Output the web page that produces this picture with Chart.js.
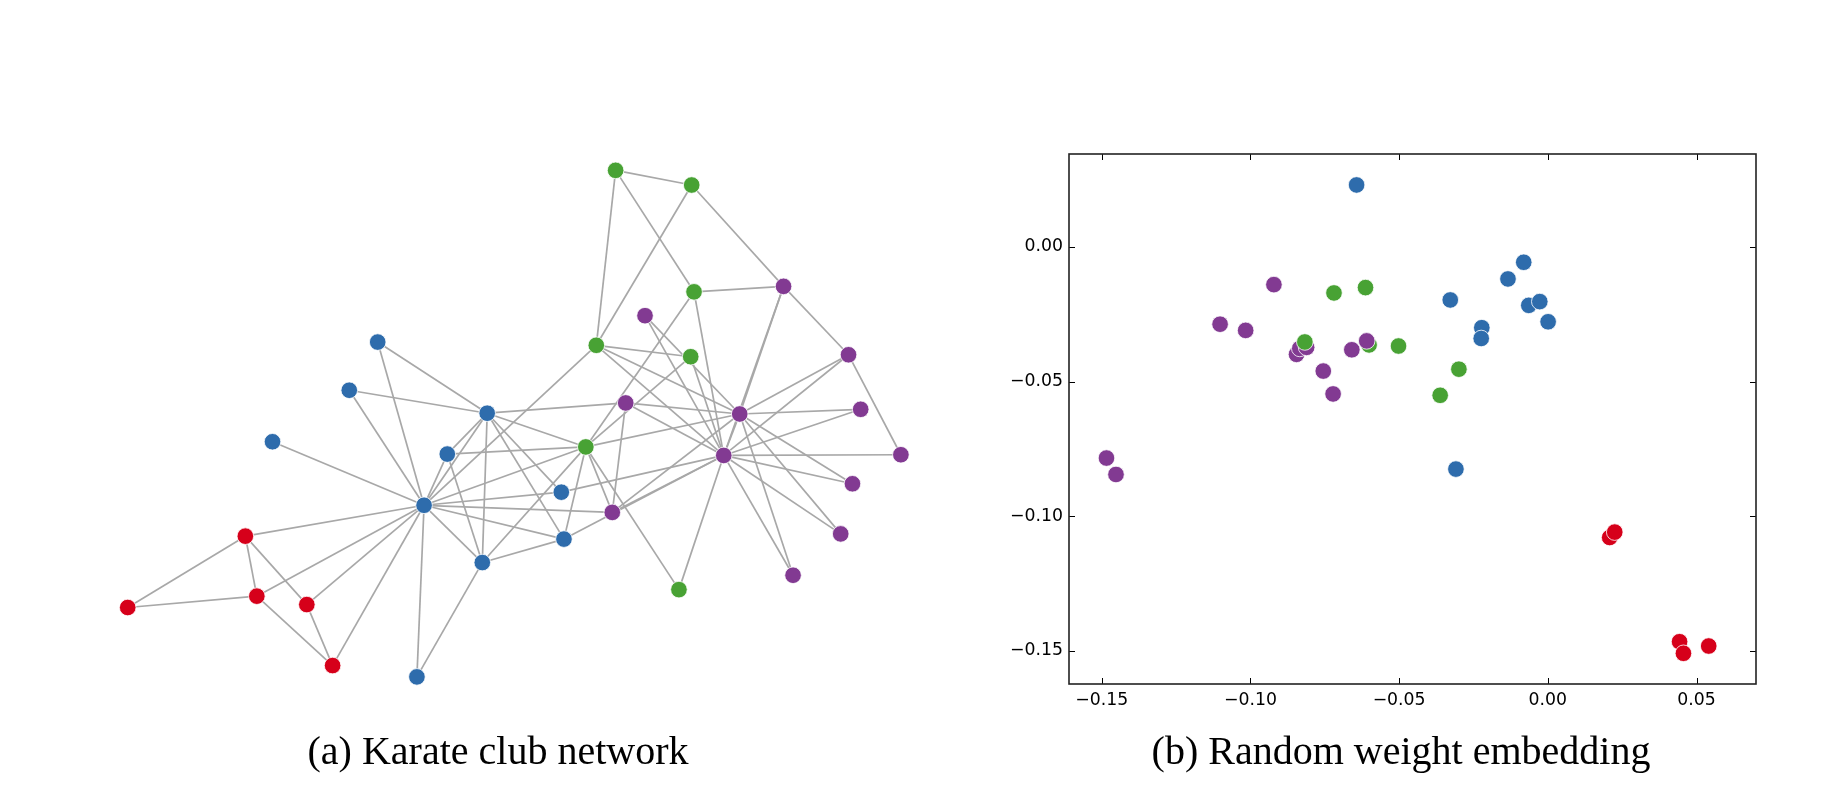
<!DOCTYPE html>
<html>
<head>
<meta charset="utf-8">
<script src="https://cdn.jsdelivr.net/npm/chart.js@4.4.1/dist/chart.umd.min.js"></script>
<style>
  html, body { margin: 0; padding: 0; background: #fff; }
  body { width: 1848px; height: 802px; position: relative; overflow: hidden; }
  canvas { position: absolute; }
  #netCanvas { left: 0; top: 0; }
  #embCanvas { left: 969px; top: 130px; }
  .caption {
    position: absolute; top: 731px; line-height: 40px; white-space: nowrap;
    font-family: 'Liberation Serif', 'Times New Roman', serif; font-size: 40px; color: #000;
    transform: translateX(-50%);
  }
</style>
</head>
<body>
<canvas id="netCanvas" width="924" height="802"></canvas>
<canvas id="embCanvas" width="831" height="600"></canvas>
<div class="caption" style="left:498px">(a) Karate club network</div>
<div class="caption" style="left:1401px">(b) Random weight embedding</div>
<script>
// ─── Community colours ─────────────────────────────
const GROUP_COLORS = ['#2e6cac', '#48a234', '#d6001a', '#823a92']; // blue, green, red, purple
const EDGE_COLOR = '#a8a8a8';

// ─── (a) Karate club network: node layout ──
const nodeX = [423.3, 487.7, 588.3, 482.7, 330.0, 241.0, 252.7, 447.0, 615.3, 683.3,
               303.7, 268.7, 416.0, 566.0, 648.7, 868.7, 121.0, 376.0, 860.3, 563.3,
               848.3, 347.0, 799.7, 790.0, 618.7, 696.3, 909.7, 698.7, 695.3, 856.3,
               629.0, 599.0, 745.3, 729.0];
const nodeY = [507.7, 413.5, 448.0, 566.3, 671.7, 539.3, 600.7, 455.3, 515.0, 594.0,
               609.3, 442.7, 683.3, 542.3, 313.7, 409.5, 612.3, 340.7, 485.7, 494.3,
               537.0, 390.0, 579.3, 283.7, 165.0, 180.0, 456.0, 289.3, 355.7, 353.7,
               403.0, 344.0, 414.3, 456.7];
const nodeGroup = [0, 0, 1, 0, 2, 2, 2, 0, 3, 1,
                   2, 0, 0, 0, 3, 3, 2, 0, 3, 0,
                   3, 0, 3, 3, 1, 1, 3, 1, 1, 3,
                   3, 1, 3, 3];
const edges = [
  [0,1],[0,2],[0,3],[0,4],[0,5],[0,6],[0,7],[0,8],[0,10],[0,11],[0,12],[0,13],[0,17],[0,19],[0,21],[0,31],
  [1,2],[1,3],[1,7],[1,13],[1,17],[1,19],[1,21],[1,30],
  [2,3],[2,7],[2,8],[2,9],[2,13],[2,27],[2,28],[2,32],
  [3,7],[3,12],[3,13],
  [4,6],[4,10],[5,6],[5,10],[5,16],[6,16],
  [8,30],[8,32],[8,33],[9,33],[13,33],
  [14,32],[14,33],[15,32],[15,33],[18,32],[18,33],[19,33],[20,32],[20,33],[22,32],[22,33],
  [23,25],[23,27],[23,29],[23,32],[23,33],
  [24,25],[24,27],[24,31],[25,31],[26,29],[26,33],[27,33],
  [28,31],[28,33],[29,32],[29,33],[30,32],[30,33],[31,32],[31,33],[32,33]
];

// ─── (b) Random weight embedding ───────────────────
const embX = [-0.0643, -0.0081, -0.0134, -0.0328, -0.0064, -0.0027, 0.0001, -0.0222, -0.0224, -0.0309,
              0.0208, 0.0225, 0.0443, 0.0456, 0.0541,
              -0.0601,
              -0.0921, -0.1102, -0.1016, -0.0845, -0.0834, -0.0811, -0.0659, -0.0609, -0.0755, -0.0722, -0.1484, -0.1452,
              -0.0719, -0.0613, -0.0817, -0.0502, -0.0299, -0.0362];
const embY = [0.0230, -0.0057, -0.0119, -0.0197, -0.0217, -0.0203, -0.0278, -0.0300, -0.0340, -0.0825,
              -0.1079, -0.1059, -0.1466, -0.1509, -0.1482,
              -0.0364,
              -0.0140, -0.0287, -0.0310, -0.0399, -0.0377, -0.0373, -0.0382, -0.0349, -0.0461, -0.0546, -0.0784, -0.0845,
              -0.0171, -0.0151, -0.0353, -0.0368, -0.0454, -0.0551];
const embGroup = [0, 0, 0, 0, 0, 0, 0, 0, 0, 0,
                  2, 2, 2, 2, 2,
                  1,
                  3, 3, 3, 3, 3, 3, 3, 3, 3, 3, 3, 3,
                  1, 1, 1, 1, 1, 1];
const xTicks = [-0.15, -0.10, -0.05, 0.00, 0.05];
const yTicks = [0.00, -0.05, -0.10, -0.15];
const X_RANGE = [-0.161, 0.07];
const Y_RANGE = [-0.1623, 0.0345];

// ─── Network chart ─────────────────────────────────
const netDatasets = [{
  data: nodeX.map((x, i) => ({ x, y: nodeY[i] })),
  backgroundColor: nodeGroup.map(g => GROUP_COLORS[g]),
  borderColor: '#ffffff',
  borderWidth: 0.8,
  pointRadius: 8.3,
  order: 0,
}];
edges.forEach(([a, b]) => {
  netDatasets.push({
    data: [{ x: nodeX[a], y: nodeY[a] }, { x: nodeX[b], y: nodeY[b] }],
    showLine: true,
    borderColor: EDGE_COLOR,
    borderWidth: 1.7,
    pointRadius: 0,
    order: 1,
  });
});

new Chart(document.getElementById('netCanvas'), {
  type: 'scatter',
  data: { datasets: netDatasets },
  options: {
    responsive: false,
    animation: false,
    layout: { padding: 0 },
    plugins: { legend: { display: false }, tooltip: { enabled: false } },
    scales: {
      x: { type: 'linear', display: false, min: 0, max: 924 },
      y: { type: 'linear', display: false, min: 0, max: 802, reverse: true },
    },
  },
});

// ─── Embedding scatter ─────────────────────────────
const fmtTick = v => (v < -1e-9 ? '\u2212' : '') + Math.abs(v).toFixed(2);

// matplotlib-like frame with inward ticks on all four sides
const framePlugin = {
  id: 'frame',
  afterDraw(chart) {
    const { ctx, chartArea: { left, right, top, bottom } } = chart;
    const sx = chart.scales.x, sy = chart.scales.y;
    const len = 6;
    ctx.save();
    ctx.strokeStyle = '#000';
    ctx.lineWidth = 1;
    ctx.beginPath();
    xTicks.forEach(v => {
      const px = Math.round(sx.getPixelForValue(v)) + 0.5;
      ctx.moveTo(px, bottom); ctx.lineTo(px, bottom - len);
      ctx.moveTo(px, top);    ctx.lineTo(px, top + len);
    });
    yTicks.forEach(v => {
      const py = Math.round(sy.getPixelForValue(v)) + 0.5;
      ctx.moveTo(left, py);  ctx.lineTo(left + len, py);
      ctx.moveTo(right, py); ctx.lineTo(right - len, py);
    });
    ctx.stroke();
    ctx.lineWidth = 1.6;
    ctx.strokeStyle = '#222';
    ctx.strokeRect(left, top, right - left, bottom - top);
    ctx.restore();
  },
};

const TICK_FONT = { family: 'DejaVu Sans', size: 17.3 };

new Chart(document.getElementById('embCanvas'), {
  type: 'scatter',
  data: {
    datasets: [{
      data: embX.map((x, i) => ({ x, y: embY[i] })),
      backgroundColor: embGroup.map(g => GROUP_COLORS[g]),
      borderColor: '#ffffff',
      borderWidth: 0.8,
      pointRadius: 8.3,
    }],
  },
  options: {
    responsive: false,
    animation: false,
    layout: { padding: { top: 24, right: 44, left: 0, bottom: 0 } },
    plugins: { legend: { display: false }, tooltip: { enabled: false } },
    scales: {
      x: {
        type: 'linear',
        min: X_RANGE[0], max: X_RANGE[1],
        afterBuildTicks: s => { s.ticks = xTicks.map(value => ({ value })); },
        afterFit: s => { s.height = 46; },
        grid: { display: false, drawTicks: false },
        border: { display: false },
        ticks: { color: '#000', font: TICK_FONT, padding: 6, maxRotation: 0, autoSkip: false, callback: fmtTick },
      },
      y: {
        type: 'linear',
        min: Y_RANGE[0], max: Y_RANGE[1],
        afterBuildTicks: s => { s.ticks = yTicks.map(value => ({ value })); },
        afterFit: s => { s.width = 100; },
        grid: { display: false, drawTicks: false },
        border: { display: false },
        ticks: { color: '#000', font: TICK_FONT, padding: 6, autoSkip: false, callback: fmtTick },
      },
    },
  },
  plugins: [framePlugin],
});
</script>
</body>
</html>
